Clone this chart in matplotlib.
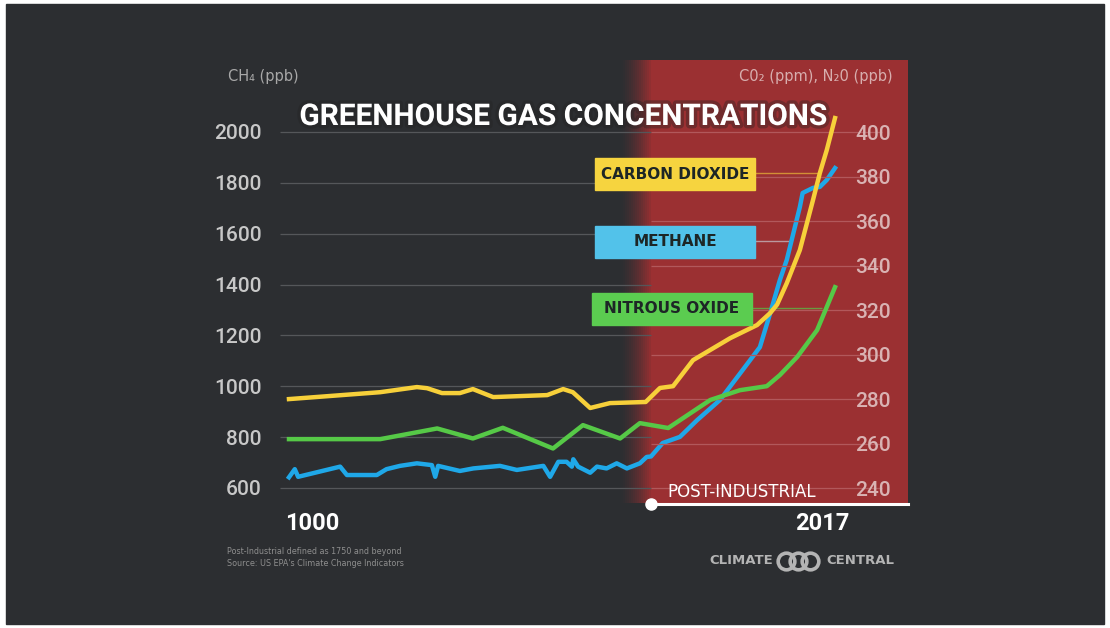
import numpy as np
import matplotlib
matplotlib.use("Agg")
from matplotlib import pyplot as plt
from matplotlib.patches import Rectangle
from matplotlib.lines import Line2D
import matplotlib.patheffects as pe

# --- data ---
ch4_years = [1000, 1012, 1019, 1106, 1120, 1182, 1202, 1230, 1265, 1296, 1303, 1309,
             1354, 1382, 1437, 1472, 1527, 1541, 1558, 1575, 1586, 1589, 1599, 1624,
             1638, 1658, 1679, 1700, 1727, 1741, 1750, 1767, 1792, 1817, 1850, 1883,
             1908, 1923, 1937, 1947, 1966, 1970, 1985, 1995, 2005, 2017]
ch4_ppb = [642, 674, 644, 684, 651, 651, 674, 687, 697, 690, 644, 687,
           667, 677, 687, 671, 687, 644, 703, 703, 684, 713, 684, 660,
           684, 677, 697, 677, 697, 722, 724, 777, 801, 867, 946, 1064,
           1154, 1288, 1418, 1497, 1705, 1760, 1780, 1784, 1811, 1858]

co2_years = [1000, 1189, 1265, 1286, 1317, 1354, 1381, 1423, 1535, 1568, 1588, 1624,
             1665, 1739, 1763, 1782, 1811, 1865, 1904, 1923, 1933, 1947, 1966,
             1985, 1995, 2005, 2017]
co2_ppm = [280.0, 283.1, 285.4, 284.9, 282.7, 282.7, 284.5, 280.9, 281.8, 284.5, 283.1, 276.0,
           278.2, 278.7, 285.0, 285.8, 297.5, 307.4, 313.3, 318.7, 322.5, 332.1, 347.0,
           369.4, 381.6, 391.9, 406.3]

n2o_years = [1000, 1189, 1307, 1381, 1443, 1547, 1609, 1686, 1727, 1775, 1836, 1879,
             1918, 1937, 1962, 1991, 2017]
n2o_ppb = [262.0, 262.0, 266.8, 262.3, 267.1, 257.8, 268.3, 262.3, 269.2, 267.0, 279.6, 284.0,
           285.8, 290.8, 298.9, 311.0, 330.3]

left_ticks = [600, 800, 1000, 1200, 1400, 1600, 1800, 2000]
right_ticks = [240, 260, 280, 300, 320, 340, 360, 380, 400]

YELLOW = '#f7d03a'
BLUE = '#1fa8e8'
GREEN = '#56c947'
BG = '#2c2e31'
RED = '#9b3032'

# x axis: pre-industrial era squeezed, post-industrial stretched
A = 362 / 750
B = 184 / 267


def fwd(yr):
    yr = np.asarray(yr, float)
    return np.where(yr < 1750, (yr - 1750) * A, (yr - 1750) * B)


def inv(p):
    p = np.asarray(p, float)
    return np.where(p < 0, 1750 + p / A, 1750 + p / B)


W, H = 1110, 628
fig = plt.figure(figsize=(W / 100, H / 100), dpi=100, facecolor='white')


def fx(px):
    return px / W


def fy(py):
    return 1 - py / H


fig.add_artist(Rectangle((fx(6), fy(624)), fx(1098), 620 / H, color=BG, zorder=-10,
                         transform=fig.transFigure))

ax = fig.add_axes([fx(280), fy(503), fx(628), 443 / H])
ax.set_facecolor('none')
ax.set_xscale('function', functions=(fwd, inv))
ax.set_xlim(981.4, 2122.9)
ax.set_ylim(541, 2283)
ax2 = ax.twinx()
ax2.set_ylim(233.3, 432.4)

# red post-industrial panel with soft left edge
ax.axvspan(1750, 2122.9, color=RED, lw=0, zorder=0)
edge = np.linspace(621, 651, 16)
for i in range(len(edge) - 1):
    y0 = 1750 + (edge[i] - 651) / A
    y1 = 1750 + (edge[i + 1] - 651) / A
    ax.axvspan(y0, y1, color=RED, lw=0, alpha=((i + 1) / len(edge)) ** 1.5, zorder=0)

# grid lines
ax.hlines(left_ticks, 981.4, 1750, color='#55575a', lw=0.9, zorder=1)
ax2.hlines(right_ticks, 1750, 2085, color='#b2585b', lw=0.9, zorder=1)

# series
ax2.plot(co2_years, co2_ppm, color=YELLOW, lw=3.2, solid_joinstyle='round', zorder=3)
ax2.plot(n2o_years, n2o_ppb, color=GREEN, lw=3.2, solid_joinstyle='round', zorder=3)
ax.plot(ch4_years, ch4_ppb, color=BLUE, lw=3.2, solid_joinstyle='round', zorder=3)

# ticks
num_font = ['Roboto', 'DejaVu Sans']
for a in (ax, ax2):
    a.set_xticks([])
    for s in a.spines.values():
        s.set_visible(False)
ax.set_yticks(left_ticks)
ax.tick_params(axis='y', length=0, pad=13, labelcolor='#c8c8c8', labelsize=15)
ax2.set_yticks(right_ticks)
ax2.tick_params(axis='y', length=0, pad=-38, labelcolor='#d9b3b3', labelsize=15)
for lab in ax.get_yticklabels() + ax2.get_yticklabels():
    lab.set_family(num_font)
    lab.set_fontweight('medium')

# connector lines from the label boxes
ax2.hlines(381.6, 1785, 1995, color=YELLOW, lw=1, alpha=0.6, zorder=2)
ax.hlines(1571, 1785, 1955, color='#cfdfe8', lw=1, alpha=0.6, zorder=2)
ax2.hlines(320.9, 1785, 1998, color=GREEN, lw=1, alpha=0.7, zorder=2)

# label boxes
boxes = [('CARBON DIOXIDE', '#f6d43f', 595, 158), ('METHANE', '#52c2ea', 595, 226),
         ('NITROUS OXIDE', '#5bcc50', 592, 293)]
for txt, col, bx, by in boxes:
    fig.add_artist(Rectangle((fx(bx), fy(by + 32)), fx(160), 32 / H, color=col, zorder=5,
                             transform=fig.transFigure))
    fig.text(fx(bx + 80), fy(by + 16), txt, ha='center', va='center', color='#1d2626',
             fontsize=11, fontweight='bold', family='DejaVu Sans', zorder=6)

# title
fig.text(fx(563), fy(117), 'GREENHOUSE GAS CONCENTRATIONS', ha='center', va='center',
         color='white', fontsize=21.5, fontweight='bold', family=num_font, zorder=7,
         path_effects=[pe.withStroke(linewidth=5, foreground='#222222', alpha=0.35)])

# axis titles
fig.text(fx(228), fy(77), 'CH₄ (ppb)', ha='left', va='center', color='#a8a8a8',
         fontsize=10.5, family='DejaVu Sans')
fig.text(fx(893), fy(77), 'C0₂ (ppm), N₂0 (ppb)', ha='right', va='center', color='#d8aeae',
         fontsize=10.5, family='DejaVu Sans')

# post-industrial marker
ax.plot([1750, 2122.9], [-0.003, -0.003], color='white', lw=2.2,
        transform=ax.get_xaxis_transform(), clip_on=False, zorder=6)
ax.plot([1750], [-0.003], marker='o', ms=8, color='white',
        transform=ax.get_xaxis_transform(), clip_on=False, zorder=6)
fig.text(fx(667), fy(492), 'POST-INDUSTRIAL', ha='left', va='center', color='white',
         fontsize=12, family='DejaVu Sans')

# year labels
fig.text(fx(312), fy(524), '1000', ha='center', va='center', color='white',
         fontsize=17, fontweight='bold', family=num_font)
fig.text(fx(822), fy(524), '2017', ha='center', va='center', color='white',
         fontsize=17, fontweight='bold', family=num_font)

# footnote
fig.text(fx(227), fy(551), 'Post-Industrial defined as 1750 and beyond', ha='left', va='center',
         color='#8e8e8e', fontsize=5.8, family='DejaVu Sans')
fig.text(fx(227), fy(563), "Source: US EPA's Climate Change Indicators", ha='left', va='center',
         color='#8e8e8e', fontsize=5.8, family='DejaVu Sans')

# logo
LOGO = '#b4b4b4'
fig.text(fx(773), fy(561), 'CLIMATE', ha='right', va='center', color=LOGO,
         fontsize=9.5, fontweight='bold', family='DejaVu Sans')
fig.text(fx(826), fy(561), 'CENTRAL', ha='left', va='center', color=LOGO,
         fontsize=9.5, fontweight='bold', family='DejaVu Sans')
for cx in (786, 798, 810):
    fig.add_artist(Line2D([fx(cx)], [fy(561)], marker='o', ms=12, mfc='none', mec=LOGO,
                          mew=2.6, transform=fig.transFigure))

fig.savefig('out.png', dpi=100, facecolor=fig.get_facecolor())
